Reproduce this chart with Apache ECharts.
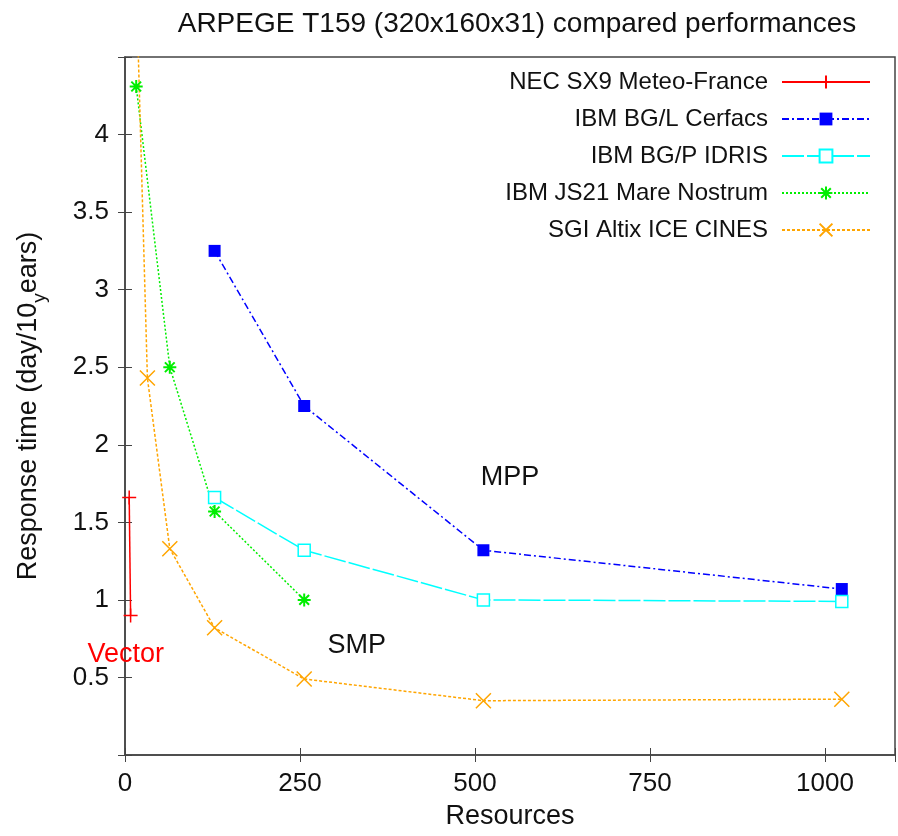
<!DOCTYPE html>
<html>
<head>
<meta charset="utf-8">
<script src="https://cdn.jsdelivr.net/npm/echarts@6/dist/echarts.min.js"></script>
<style>
  html, body { margin: 0; padding: 0; background: #fff; }
  #arpegeChart { width: 898px; height: 836px; }
</style>
</head>
<body>
<div id="arpegeChart"></div>
<script>
// 数据：每个机器的资源数和响应时间
const necRes = [6, 8];
const necTimes = [1.66, 0.9];
const bgRes = [128, 256, 512, 1024];
const bglTimes = [3.25, 2.25, 1.32, 1.07];
const bgpTimes = [1.66, 1.32, 1.0, 0.99];
const js21Res = [16, 64, 128, 256];
const js21Times = [4.31, 2.5, 1.57, 1.0];
const sgiRes = [16, 32, 64, 128, 256, 512, 1024];
const sgiTimes = [5.0, 2.43, 1.33, 0.82, 0.49, 0.35, 0.36];
const seriesNames = [
  "NEC SX9 Meteo-France",
  "IBM BG/L Cerfacs",
  "IBM BG/P IDRIS",
  "IBM JS21 Mare Nostrum",
  "SGI Altix ICE CINES",
];
// 图中的文字标注 [x, y, 文字, 颜色]
const notes = [
  [550, 1.79, "MPP", "#111"],
  [331, 0.705, "SMP", "#111"],
  [1, 0.65, "Vector", "#ff0000"],
];

const FONT = "Liberation Sans";
const plusPath = "path://M0,-1L0,1M-1,0L1,0";
const crossPath = "path://M-1,-1L1,1M-1,1L1,-1";
const starPath = "path://M0,-1L0,1M-1,0L1,0M-0.75,-0.75L0.75,0.75M-0.75,0.75L0.75,-0.75";

function pairs(xs, ys) {
  return xs.map((x, i) => [x, ys[i]]);
}

function lineSeries(name, data, color, dash, symbol, size, itemStyle) {
  return {
    name: name,
    type: "line",
    data: data,
    color: color,
    symbol: symbol,
    symbolSize: size,
    lineStyle: { color: color, width: 1.5, type: dash },
    itemStyle: itemStyle,
    emphasis: { disabled: true },
    animation: false,
  };
}

let myChart = echarts.init(document.getElementById("arpegeChart"));

let axisLineStyle = { color: "#444", width: 1.5 };
let tickStyle = { inside: true, length: 7, lineStyle: { color: "#444", width: 1 } };

let options = {
  backgroundColor: "#fff",
  title: {
    text: "ARPEGE T159 (320x160x31) compared performances",
    left: 512,
    textAlign: "center",
    top: 5,
    textStyle: { fontFamily: FONT, fontSize: 28, fontWeight: "normal", color: "#111" },
  },
  legend: {
    orient: "vertical",
    align: "right",
    right: 22,
    top: 65,
    itemWidth: 88,
    itemHeight: 16,
    itemGap: 13,
    data: seriesNames,
    textStyle: { fontFamily: FONT, fontSize: 24, color: "#111", padding: [0, 9, 0, 0] },
  },
  grid: {
    left: 125,
    right: 1,
    top: 57,
    bottom: 81,
    show: true,
    borderColor: "#444",
    borderWidth: 1.5,
  },
  xAxis: [
    {
      type: "value",
      min: 0,
      max: 1100,
      interval: 250,
      name: "Resources",
      nameLocation: "middle",
      nameGap: 48,
      nameTextStyle: { fontFamily: FONT, fontSize: 27, color: "#111" },
      axisLine: { lineStyle: axisLineStyle },
      axisTick: tickStyle,
      splitLine: { show: false },
      axisLabel: {
        fontFamily: FONT,
        fontSize: 26,
        color: "#111",
        margin: 16,
        formatter: (v) => (v % 250 === 0 ? v : ""),
      },
    },
    {
      type: "value",
      position: "top",
      min: 0,
      max: 1100,
      interval: 250,
      axisLine: { show: false },
      axisTick: tickStyle,
      axisLabel: { show: false },
      splitLine: { show: false },
    },
  ],
  yAxis: [
    {
      type: "value",
      min: 0,
      max: 4.5,
      interval: 0.5,
      name: "{a|Response time (day/10}{s|y}{a|ears)}",
      nameLocation: "middle",
      nameGap: 78,
      nameTextStyle: {
        rich: {
          a: { fontFamily: FONT, fontSize: 27, color: "#111", lineHeight: 32, verticalAlign: "top" },
          s: { fontFamily: FONT, fontSize: 19, color: "#111", lineHeight: 32, verticalAlign: "top", padding: [15, 0, 0, 0] },
        },
      },
      axisLine: { lineStyle: axisLineStyle },
      axisTick: tickStyle,
      splitLine: { show: false },
      axisLabel: {
        fontFamily: FONT,
        fontSize: 26,
        color: "#111",
        margin: 16,
        formatter: (v) => (v === 0 || v > 4.4 ? "" : v),
      },
    },
    {
      type: "value",
      position: "right",
      min: 0,
      max: 4.5,
      interval: 0.5,
      axisLine: { show: false },
      axisTick: tickStyle,
      axisLabel: { show: false },
      splitLine: { show: false },
    },
  ],
  series: [
    lineSeries(seriesNames[0], pairs(necRes, necTimes), "#ff0000", "solid", plusPath, 14,
      { color: "#ff0000", borderColor: "#ff0000", borderWidth: 1.5 }),
    lineSeries(seriesNames[1], pairs(bgRes, bglTimes), "#0000ff", [7, 3, 2, 3], "rect", 12,
      { color: "#0000ff" }),
    lineSeries(seriesNames[2], pairs(bgRes, bgpTimes), "#00ffff", [22, 3], "rect", 12,
      { color: "#fff", borderColor: "#00ffff", borderWidth: 1.5 }),
    lineSeries(seriesNames[3], pairs(js21Res, js21Times), "#00ee00", [2, 2], starPath, 13,
      { color: "#00ee00", borderColor: "#00ee00", borderWidth: 2 }),
    lineSeries(seriesNames[4], pairs(sgiRes, sgiTimes), "#ffa500", [3, 2], crossPath, 15,
      { color: "#ffa500", borderColor: "#ffa500", borderWidth: 1.5 }),
    {
      // 文字标注
      type: "scatter",
      data: notes.map((n) => ({
        value: [n[0], n[1]],
        name: n[2],
        label: { color: n[3] },
      })),
      symbolSize: 0,
      silent: true,
      animation: false,
      itemStyle: { opacity: 1 },
      label: {
        show: true,
        position: "inside",
        formatter: (p) => p.name,
        fontFamily: FONT,
        fontSize: 27,
        opacity: 1,
      },
    },
  ],
};

myChart.setOption(options);
</script>
</body>
</html>
